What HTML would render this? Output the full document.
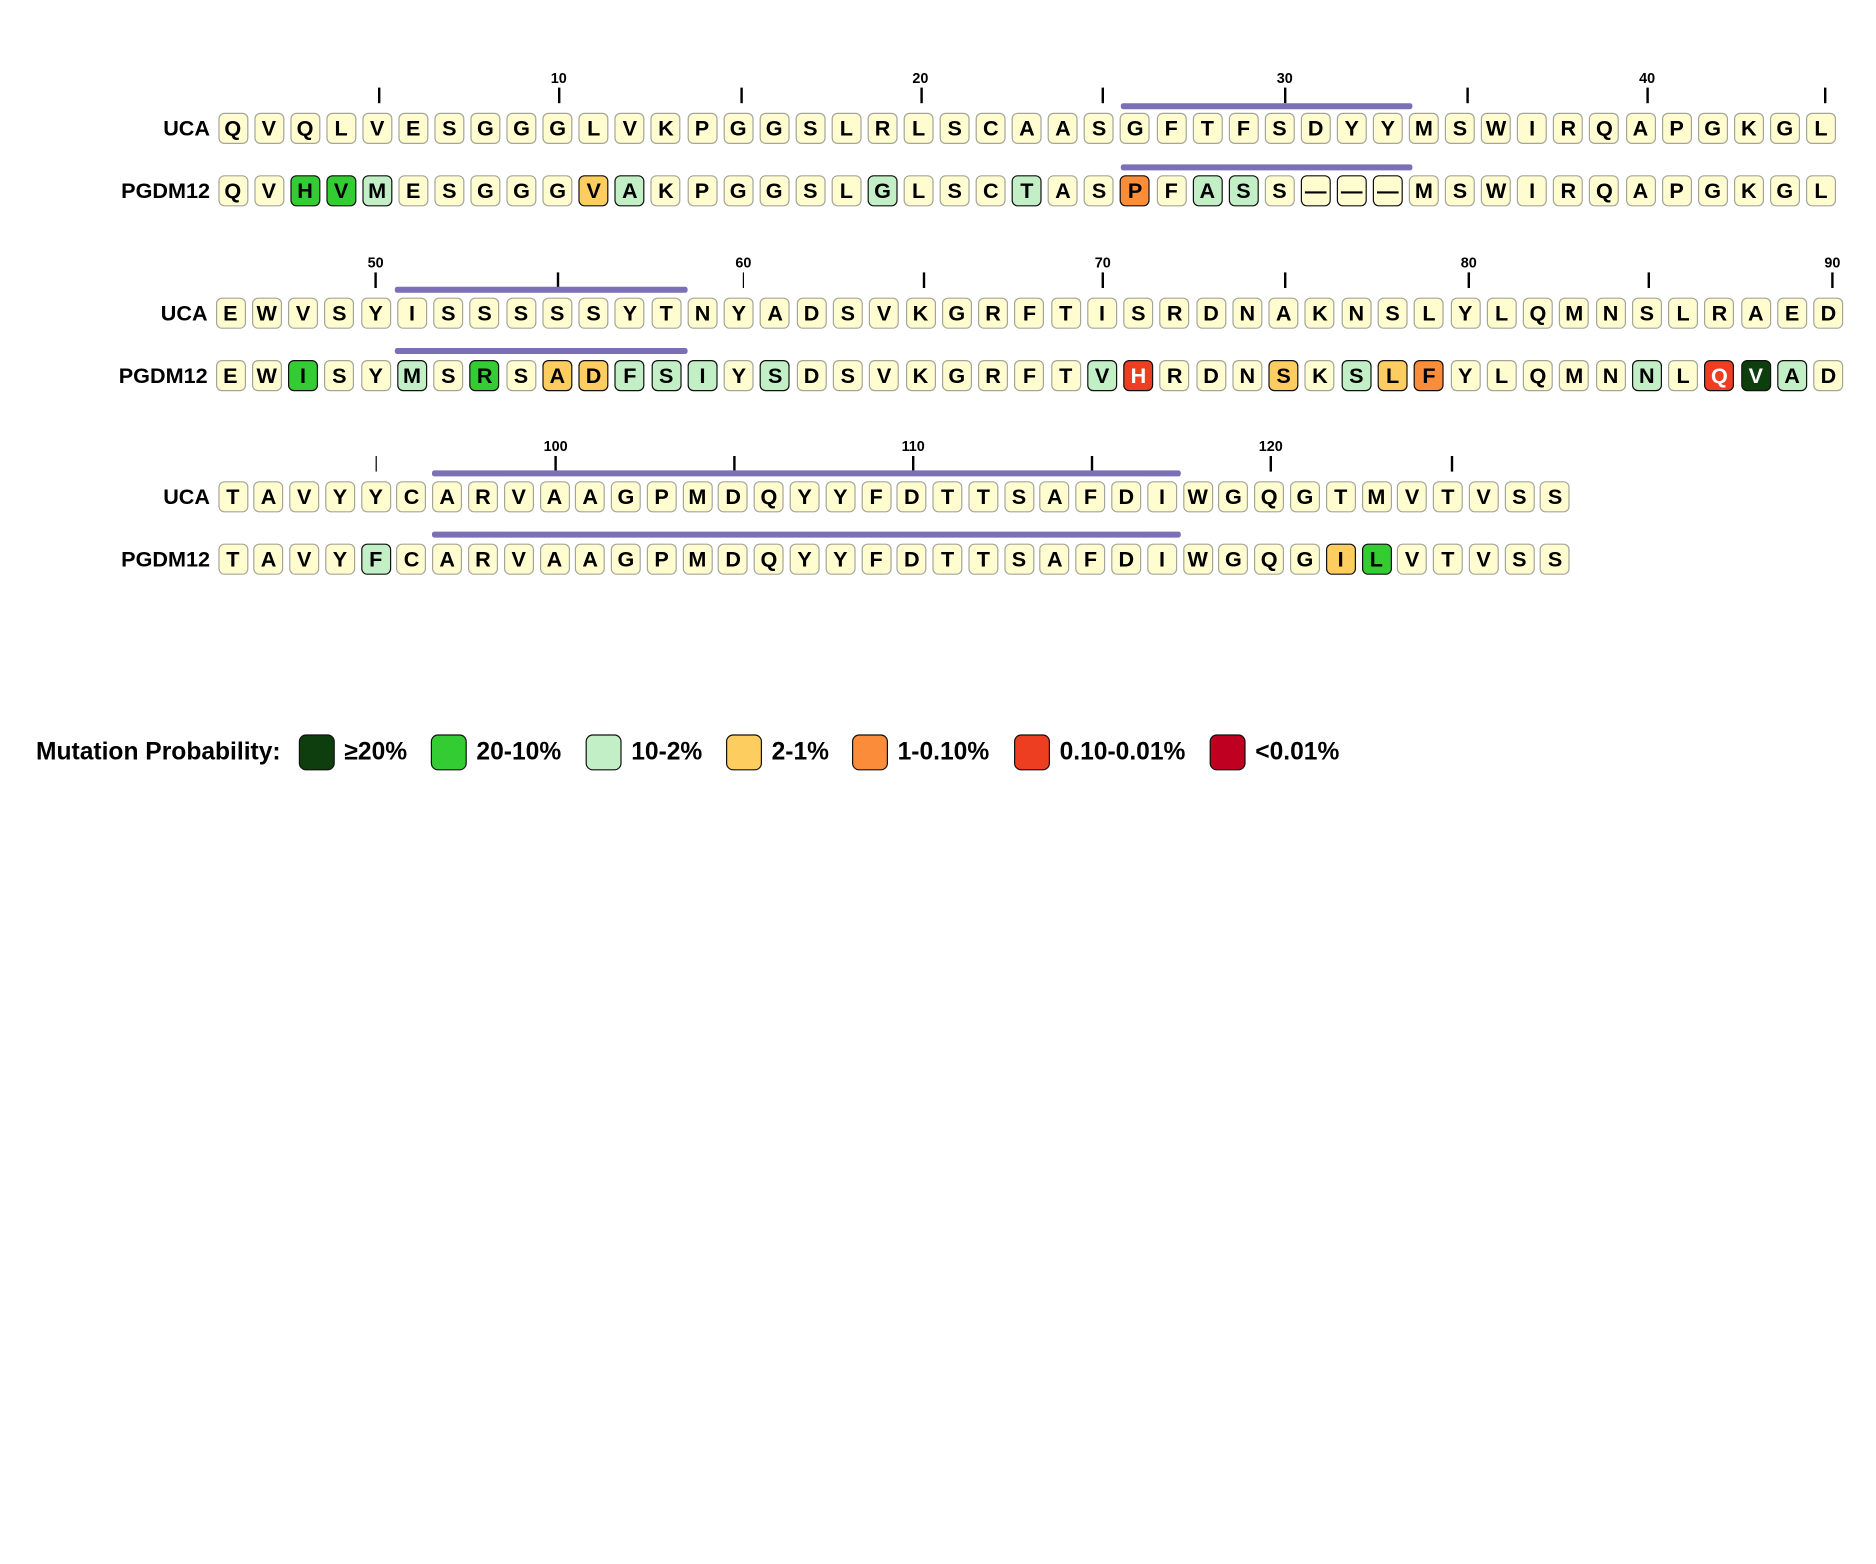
<!DOCTYPE html>
<html><head><meta charset="utf-8"><style>
html,body{margin:0;padding:0;background:#fff;}
body{width:1876px;height:1563px;overflow:hidden;position:relative;}
#s{position:absolute;left:0;top:0;width:1564px;height:1303px;transform:scale(1.2);transform-origin:0 0;font-family:"Liberation Sans",Arial,sans-serif;font-weight:bold;color:#000;}
.lab{position:absolute;width:160px;text-align:right;font-size:18px;line-height:20px;}
.row{position:absolute;display:flex;}
.row span{display:block;box-sizing:border-box;width:25px;height:26px;border:1.4px solid #a5a59a;border-radius:5px;background:#fffdd0;text-align:center;font-size:18px;line-height:24px;flex:none;}
.r1 span{margin-right:5.08px}.r2 span{margin-right:5.27px}.r3 span{margin-right:4.79px}
.row span.m{border:1.6px solid #111;}
.row span.l{background:#c2efc6}
.row span.g{background:#33cc33}
.row span.d{background:#0e3d0e;color:#fff}
.row span.y{background:#fdcd5f}
.row span.o{background:#fb8c3a}
.row span.r{background:#ee3e22;color:#fff}
.tk{position:absolute;width:1.6px;height:13px;background:#000;}
.tn{position:absolute;width:40px;margin-left:-20px;text-align:center;font-size:12px;line-height:12px;}
.bar{position:absolute;height:4.5px;background:#7b6fb6;border-radius:2px;}
.leg{position:absolute;top:612px;font-size:20.5px;line-height:30px;}
.lb{position:absolute;top:612px;width:30px;height:30px;box-sizing:border-box;border:1.6px solid #111;border-radius:6px;}
</style></head><body><div id="s">

<!-- Block 1 -->
<div class="tn" style="left:465.6px;top:59px">10</div>
<div class="tn" style="left:767px;top:59px">20</div>
<div class="tn" style="left:1070.6px;top:59px">30</div>
<div class="tn" style="left:1372.6px;top:59px">40</div>
<div class="tk" style="left:315px;top:73px"></div>
<div class="tk" style="left:465px;top:73px"></div>
<div class="tk" style="left:617px;top:73px"></div>
<div class="tk" style="left:767px;top:73px"></div>
<div class="tk" style="left:918px;top:73px"></div>
<div class="tk" style="left:1070px;top:73px"></div>
<div class="tk" style="left:1222px;top:73px"></div>
<div class="tk" style="left:1372px;top:73px"></div>
<div class="tk" style="left:1520px;top:73px"></div>
<div class="bar" style="left:934px;width:243px;top:86px"></div>
<div class="bar" style="left:934px;width:243px;top:137px"></div>
<div class="lab" style="left:15px;top:97px">UCA</div>
<div class="row r1" style="left:181.5px;top:94px"><span>Q</span><span>V</span><span>Q</span><span>L</span><span>V</span><span>E</span><span>S</span><span>G</span><span>G</span><span>G</span><span>L</span><span>V</span><span>K</span><span>P</span><span>G</span><span>G</span><span>S</span><span>L</span><span>R</span><span>L</span><span>S</span><span>C</span><span>A</span><span>A</span><span>S</span><span>G</span><span>F</span><span>T</span><span>F</span><span>S</span><span>D</span><span>Y</span><span>Y</span><span>M</span><span>S</span><span>W</span><span>I</span><span>R</span><span>Q</span><span>A</span><span>P</span><span>G</span><span>K</span><span>G</span><span>L</span></div>
<div class="lab" style="left:15px;top:149px">PGDM12</div>
<div class="row r1" style="left:181.5px;top:146px"><span>Q</span><span>V</span><span class="m g">H</span><span class="m g">V</span><span class="m l">M</span><span>E</span><span>S</span><span>G</span><span>G</span><span>G</span><span class="m y">V</span><span class="m l">A</span><span>K</span><span>P</span><span>G</span><span>G</span><span>S</span><span>L</span><span class="m l">G</span><span>L</span><span>S</span><span>C</span><span class="m l">T</span><span>A</span><span>S</span><span class="m o">P</span><span>F</span><span class="m l">A</span><span class="m l">S</span><span>S</span><span class="m">—</span><span class="m">—</span><span class="m">—</span><span>M</span><span>S</span><span>W</span><span>I</span><span>R</span><span>Q</span><span>A</span><span>P</span><span>G</span><span>K</span><span>G</span><span>L</span></div>

<!-- Block 2 -->
<div class="tn" style="left:313px;top:213px">50</div>
<div class="tn" style="left:619.5px;top:213px">60</div>
<div class="tn" style="left:919px;top:213px">70</div>
<div class="tn" style="left:1224px;top:213px">80</div>
<div class="tn" style="left:1527px;top:213px">90</div>
<div class="tk" style="left:312px;top:227px"></div>
<div class="tk" style="left:464px;top:227px"></div>
<div class="tk" style="left:618.5px;top:227px"></div>
<div class="tk" style="left:769px;top:227px"></div>
<div class="tk" style="left:918px;top:227px"></div>
<div class="tk" style="left:1070px;top:227px"></div>
<div class="tk" style="left:1223px;top:227px"></div>
<div class="tk" style="left:1373px;top:227px"></div>
<div class="tk" style="left:1526px;top:227px"></div>
<div class="bar" style="left:329px;width:244px;top:239px"></div>
<div class="bar" style="left:329px;width:244px;top:290px"></div>
<div class="lab" style="left:13px;top:251px">UCA</div>
<div class="row r2" style="left:179.5px;top:248px"><span>E</span><span>W</span><span>V</span><span>S</span><span>Y</span><span>I</span><span>S</span><span>S</span><span>S</span><span>S</span><span>S</span><span>Y</span><span>T</span><span>N</span><span>Y</span><span>A</span><span>D</span><span>S</span><span>V</span><span>K</span><span>G</span><span>R</span><span>F</span><span>T</span><span>I</span><span>S</span><span>R</span><span>D</span><span>N</span><span>A</span><span>K</span><span>N</span><span>S</span><span>L</span><span>Y</span><span>L</span><span>Q</span><span>M</span><span>N</span><span>S</span><span>L</span><span>R</span><span>A</span><span>E</span><span>D</span></div>
<div class="lab" style="left:13px;top:303px">PGDM12</div>
<div class="row r2" style="left:179.5px;top:300px"><span>E</span><span>W</span><span class="m g">I</span><span>S</span><span>Y</span><span class="m l">M</span><span>S</span><span class="m g">R</span><span>S</span><span class="m y">A</span><span class="m y">D</span><span class="m l">F</span><span class="m l">S</span><span class="m l">I</span><span>Y</span><span class="m l">S</span><span>D</span><span>S</span><span>V</span><span>K</span><span>G</span><span>R</span><span>F</span><span>T</span><span class="m l">V</span><span class="m r">H</span><span>R</span><span>D</span><span>N</span><span class="m y">S</span><span>K</span><span class="m l">S</span><span class="m y">L</span><span class="m o">F</span><span>Y</span><span>L</span><span>Q</span><span>M</span><span>N</span><span class="m l">N</span><span>L</span><span class="m r">Q</span><span class="m d">V</span><span class="m l">A</span><span>D</span></div>

<!-- Block 3 -->
<div class="tn" style="left:463px;top:366px">100</div>
<div class="tn" style="left:761px;top:366px">110</div>
<div class="tn" style="left:1059px;top:366px">120</div>
<div class="tk" style="left:312.5px;top:380px"></div>
<div class="tk" style="left:462px;top:380px"></div>
<div class="tk" style="left:611px;top:380px"></div>
<div class="tk" style="left:760px;top:380px"></div>
<div class="tk" style="left:909px;top:380px"></div>
<div class="tk" style="left:1058px;top:380px"></div>
<div class="tk" style="left:1209px;top:380px"></div>
<div class="bar" style="left:360px;width:624px;top:392px"></div>
<div class="bar" style="left:360px;width:624px;top:443px"></div>
<div class="lab" style="left:15px;top:404px">UCA</div>
<div class="row r3" style="left:181.5px;top:401px"><span>T</span><span>A</span><span>V</span><span>Y</span><span>Y</span><span>C</span><span>A</span><span>R</span><span>V</span><span>A</span><span>A</span><span>G</span><span>P</span><span>M</span><span>D</span><span>Q</span><span>Y</span><span>Y</span><span>F</span><span>D</span><span>T</span><span>T</span><span>S</span><span>A</span><span>F</span><span>D</span><span>I</span><span>W</span><span>G</span><span>Q</span><span>G</span><span>T</span><span>M</span><span>V</span><span>T</span><span>V</span><span>S</span><span>S</span></div>
<div class="lab" style="left:15px;top:456px">PGDM12</div>
<div class="row r3" style="left:181.5px;top:453px"><span>T</span><span>A</span><span>V</span><span>Y</span><span class="m l">F</span><span>C</span><span>A</span><span>R</span><span>V</span><span>A</span><span>A</span><span>G</span><span>P</span><span>M</span><span>D</span><span>Q</span><span>Y</span><span>Y</span><span>F</span><span>D</span><span>T</span><span>T</span><span>S</span><span>A</span><span>F</span><span>D</span><span>I</span><span>W</span><span>G</span><span>Q</span><span>G</span><span class="m y">I</span><span class="m g">L</span><span>V</span><span>T</span><span>V</span><span>S</span><span>S</span></div>

<!-- Legend -->
<div class="leg" style="left:30px">Mutation Probability:</div>
<div class="lb" style="left:249px;background:#0e3d0e"></div><div class="leg" style="left:287px">≥20%</div>
<div class="lb" style="left:359px;background:#33cc33"></div><div class="leg" style="left:397px">20-10%</div>
<div class="lb" style="left:488px;background:#c2efc6"></div><div class="leg" style="left:526px">10-2%</div>
<div class="lb" style="left:605px;background:#fdcd5f"></div><div class="leg" style="left:643px">2-1%</div>
<div class="lb" style="left:710px;background:#fb8c3a"></div><div class="leg" style="left:748px">1-0.10%</div>
<div class="lb" style="left:845px;background:#ee3e22"></div><div class="leg" style="left:883px">0.10-0.01%</div>
<div class="lb" style="left:1008px;background:#c00021"></div><div class="leg" style="left:1046px">&lt;0.01%</div>

</div></body></html>
